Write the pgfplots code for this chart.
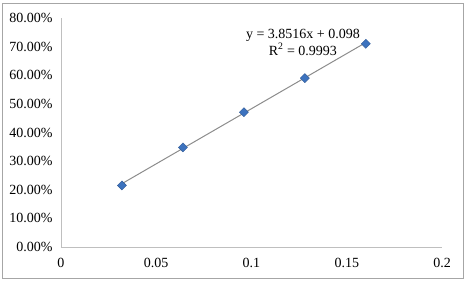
\documentclass[border=0pt]{standalone}
\usepackage{pgfplots}
\pgfplotsset{compat=1.18}
\usepackage{fontspec}
\setmainfont{Liberation Serif}
\definecolor{ptblue}{HTML}{3C72BE}
\definecolor{axgray}{HTML}{BFBFBF}
\definecolor{framegray}{HTML}{A6A6A6}
\definecolor{trendgray}{HTML}{8C8C8C}
\begin{document}
\begin{tikzpicture}
\path (-61pt,-35pt) rectangle (406pt,247pt);
\draw[framegray, line width=0.9pt] (-59pt,-31pt) rectangle (402pt,244pt);
\begin{axis}[
  at={(0pt,0pt)}, anchor=origin,
  scale only axis,
  width=381pt, height=229pt,
  xmin=0, xmax=0.2, ymin=0, ymax=80,
  axis x line*=bottom, axis y line*=left,
  axis line style={axgray, line width=0.8pt, -},
  major tick length=0pt,
  xtick={0,0.05,0.1,0.15,0.2},
  xticklabels={0,0.05,0.1,0.15,0.2},
  ytick={0,10,20,30,40,50,60,70,80},
  yticklabels={0.00\%,10.00\%,20.00\%,30.00\%,40.00\%,50.00\%,60.00\%,70.00\%,80.00\%},
  scaled x ticks=false,
  tick label style={font=\fontsize{14}{16}\selectfont, text=black},
  yticklabel style={xshift=-5pt},
  xticklabel style={yshift=-8pt},
  clip=false,
]
\addplot[trendgray, line width=1pt] coordinates {(0.032,22.13) (0.16,71.43)};
\addplot[only marks, mark=square*, mark size=3.2pt,
  mark options={rotate=45, fill=ptblue, draw=ptblue!80!black, line width=0.4pt}]
  coordinates {(0.032,21.5) (0.064,34.8) (0.096,47.1) (0.128,59.0) (0.16,71.0)};
\node[align=center, font=\fontsize{14}{16.5}\selectfont, inner sep=0pt]
  at (axis cs:0.127,71.5) {y = 3.8516x + 0.098\\R\textsuperscript{2} = 0.9993};
\end{axis}
\end{tikzpicture}
\end{document}
